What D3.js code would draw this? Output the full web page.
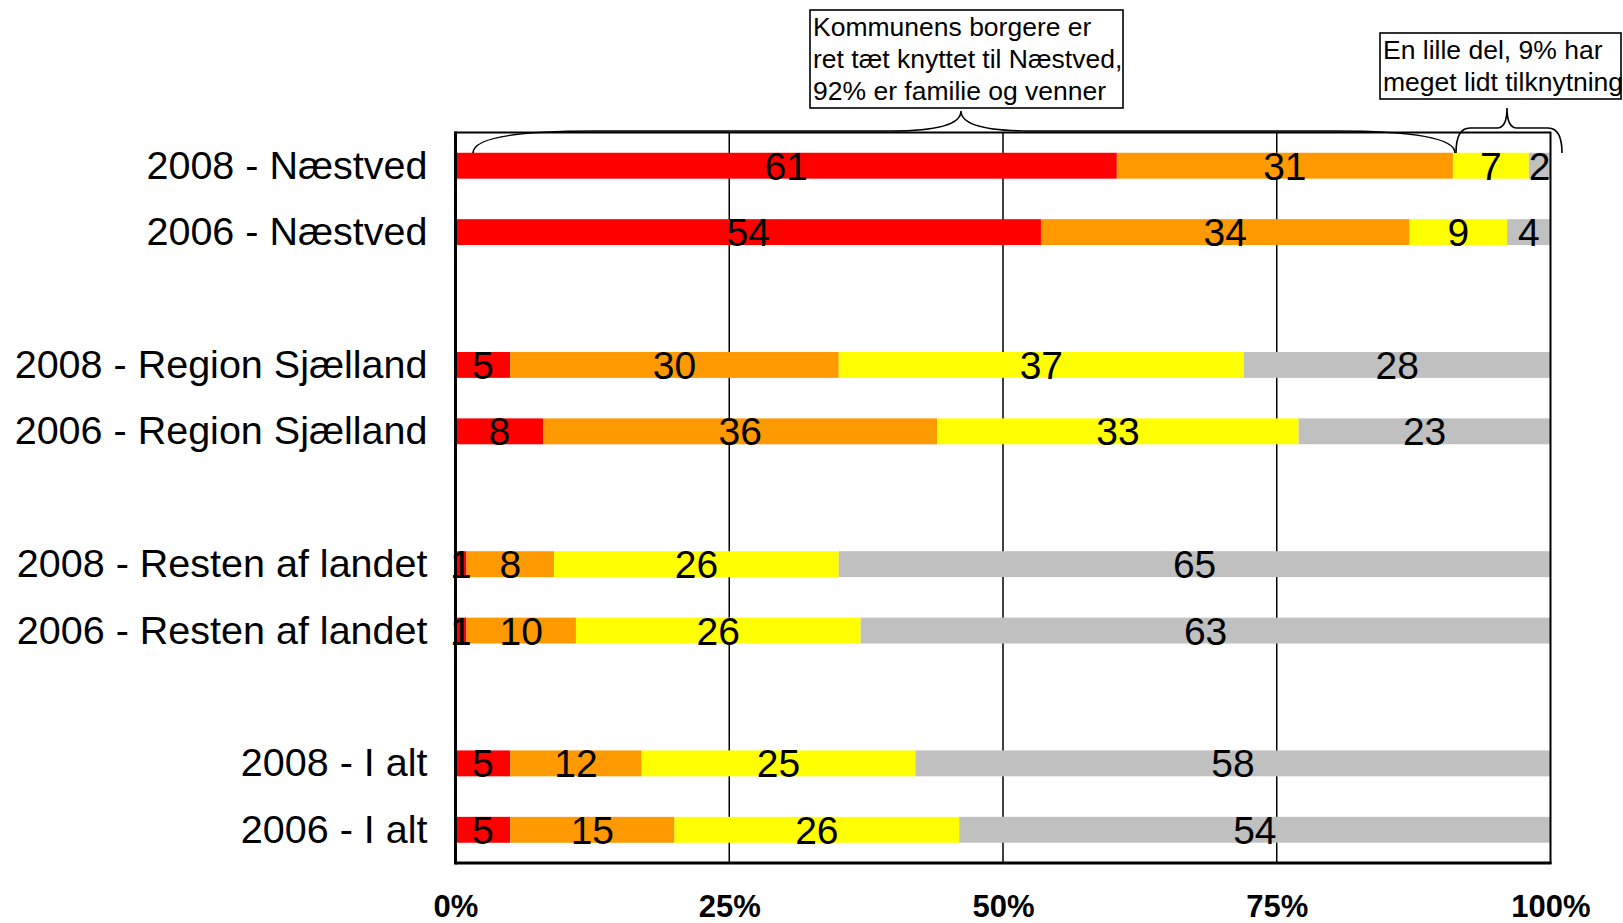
<!DOCTYPE html>
<html>
<head>
<meta charset="utf-8">
<script src="https://cdn.jsdelivr.net/npm/d3@7"></script>
<style>
  html, body { margin: 0; padding: 0; background: #fff; }
  svg { display: block; }
  text { font-family: "Liberation Sans", Arial, Helvetica, sans-serif; fill: #000; }
</style>
</head>
<body>
<svg id="chart" width="1623" height="923"></svg>
<script>
// ---- data ----
const categories = ["2008 - Næstved", "2006 - Næstved", "2008 - Region Sjælland", "2006 - Region Sjælland",
                    "2008 - Resten af landet", "2006 - Resten af landet", "2008 - I alt", "2006 - I alt"];
const seriesKeys = ["rod", "orange", "gul", "graa"];
const seriesColors = ["#FF0000", "#FF9900", "#FFFF00", "#C0C0C0"];
const rod    = [61, 54, 5, 8, 1, 1, 5, 5];
const orange = [31, 34, 30, 36, 8, 10, 12, 15];
const gul    = [7, 9, 37, 33, 26, 26, 25, 26];
const graa   = [2, 4, 28, 23, 65, 63, 58, 54];
const tickValues = [0, 0.25, 0.5, 0.75, 1];
const tickLabels = ["0%", "25%", "50%", "75%", "100%"];
const note1 = ["Kommunens borgere er", "ret tæt knyttet til Næstved,", "92% er familie og venner"];
const note2 = ["En lille del, 9% har", "meget lidt tilknytning"];

// ---- build table ----
const table = categories.map((c, i) => ({ cat: c, rod: rod[i], orange: orange[i], gul: gul[i], graa: graa[i] }));
// slots: pairs separated by empty gap slots
const slots = [];
categories.forEach((c, i) => { slots.push(c); if (i % 2 === 1 && i < categories.length - 1) slots.push("__gap" + i); });

const svg = d3.select("#chart");
const L = 455.5, R = 1550.5, T = 132.5, B = 863;

const x = d3.scaleLinear().domain([0, 1]).range([L, R]);
const y = d3.scaleBand().domain(slots).range([T, B]).paddingInner(0.61).paddingOuter(0.305);
const color = d3.scaleOrdinal().domain(seriesKeys).range(seriesColors);

const stack = d3.stack().keys(seriesKeys).offset(d3.stackOffsetExpand);
const layers = stack(table);

// gridlines
svg.append("g").selectAll("line").data(tickValues.slice(1, -1)).join("line")
  .attr("x1", d => x(d)).attr("x2", d => x(d)).attr("y1", T).attr("y2", B)
  .attr("stroke", "#000").attr("stroke-width", 1.5);

// bars
const g = svg.append("g");
layers.forEach(layer => {
  g.append("g").attr("fill", color(layer.key)).selectAll("rect").data(layer).join("rect")
    .attr("x", d => x(d[0])).attr("width", d => x(d[1]) - x(d[0]))
    .attr("y", d => y(d.data.cat)).attr("height", y.bandwidth());
});

// value labels
layers.forEach(layer => {
  g.append("g").selectAll("text").data(layer).join("text")
    .attr("x", d => (x(d[0]) + x(d[1])) / 2)
    .attr("y", d => y(d.data.cat) + y.bandwidth() / 2)
    .attr("dy", "0.36em")
    .attr("text-anchor", "middle")
    .attr("font-size", 39)
    .text(d => d.data[layer.key]);
});

// frame
svg.append("rect").attr("x", L).attr("y", T).attr("width", R - L).attr("height", B - T)
  .attr("fill", "none").attr("stroke", "#000").attr("stroke-width", 2);
svg.append("line").attr("x1", L).attr("x2", L).attr("y1", T - 1).attr("y2", B + 1.5).attr("stroke", "#000").attr("stroke-width", 3);
svg.append("line").attr("x1", L).attr("x2", R + 1).attr("y1", B).attr("y2", B).attr("stroke", "#000").attr("stroke-width", 3);

// category axis labels
svg.append("g").selectAll("text").data(categories).join("text")
  .attr("x", L - 28).attr("y", d => y(d) + y.bandwidth() / 2)
  .attr("dy", "0.33em").attr("text-anchor", "end").attr("font-size", 39.5)
  .text(d => d);

// x axis tick labels
const xAxis = d3.axisBottom(x).tickValues(tickValues).tickFormat((d, i) => tickLabels[i]).tickSize(0).tickPadding(0);
const ax = svg.append("g").attr("transform", `translate(0, 917)`).call(xAxis);
ax.select(".domain").remove();
ax.selectAll("text").attr("font-size", 31).attr("font-weight", "bold")
  .attr("font-family", "'Liberation Sans', Arial, sans-serif").attr("fill", "#000").attr("dy", "0");

// braces
function brace(x1, x2, xTip, yEnd, yArm, yTip, rEnd, rMid) {
  return `M${x1},${yEnd} Q${x1},${yArm} ${x1 + rEnd},${yArm} L${xTip - rMid},${yArm} Q${xTip},${yArm} ${xTip},${yTip}` +
         ` Q${xTip},${yArm} ${xTip + rMid},${yArm} L${x2 - rEnd},${yArm} Q${x2},${yArm} ${x2},${yEnd}`;
}
svg.append("path").attr("d", brace(473, 1455, 961, 153, 131, 111, 120, 70))
  .attr("fill", "none").attr("stroke", "#000").attr("stroke-width", 1.6);
svg.append("path").attr("d", brace(1456, 1562, 1507, 153, 128, 108, 14, 10))
  .attr("fill", "none").attr("stroke", "#000").attr("stroke-width", 1.6);

// annotation boxes
function note(lines, bx, by, bw, bh) {
  const n = svg.append("g");
  n.append("rect").attr("x", bx).attr("y", by).attr("width", bw).attr("height", bh)
    .attr("fill", "#fff").attr("stroke", "#000").attr("stroke-width", 1.6);
  n.selectAll("text").data(lines).join("text")
    .attr("x", bx + 3).attr("y", (d, i) => by + 26 + i * 32)
    .attr("font-size", 26.5).text(d => d);
}
note(note1, 810, 10, 313, 98);
note(note2, 1380, 33, 241, 66);
</script>
</body>
</html>
